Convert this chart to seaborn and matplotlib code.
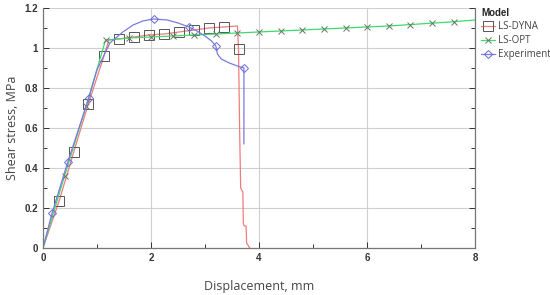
import matplotlib
matplotlib.use("Agg")
import matplotlib.pyplot as plt
import seaborn as sns
from matplotlib.ticker import MultipleLocator, FormatStrFormatter

# LS-DYNA simulation
dyna_x = [0, 0.30, 0.57, 0.84, 1.13, 1.22, 1.41, 1.69, 1.96, 2.24, 2.52, 2.80, 3.07, 3.35,
          3.60, 3.62, 3.64, 3.66, 3.70, 3.71, 3.73, 3.76, 3.77, 3.83]
dyna_y = [0, 0.235, 0.48, 0.72, 0.96, 1.04, 1.045, 1.055, 1.065, 1.07, 1.08, 1.09, 1.10, 1.105,
          1.11, 0.995, 0.60, 0.30, 0.28, 0.12, 0.11, 0.11, 0.025, 0.0]
dyna_marks = [1, 2, 3, 4, 6, 7, 8, 9, 10, 11, 12, 13, 15]

# LS-OPT fit
opt_x = [0, 0.4, 0.8, 1.16, 1.6, 2.0, 2.4, 2.8, 3.2, 3.6, 4.0, 4.4, 4.8, 5.2, 5.6, 6.0,
         6.4, 6.8, 7.2, 7.6, 8.0]
opt_y = [0, 0.36, 0.71, 1.04, 1.05, 1.055, 1.06, 1.065, 1.07, 1.075, 1.08, 1.085, 1.09,
         1.095, 1.10, 1.105, 1.11, 1.117, 1.124, 1.131, 1.14]
opt_marks = list(range(1, 20))

# experiment
exp_x = [0, 0.17, 0.46, 0.85, 1.0, 1.24, 1.48, 1.67, 1.85, 2.05, 2.3, 2.5, 2.70, 2.85, 3.0,
         3.12, 3.20, 3.23, 3.3, 3.45, 3.6, 3.72, 3.72, 3.72]
exp_y = [0, 0.175, 0.43, 0.75, 0.89, 1.025, 1.08, 1.115, 1.135, 1.145, 1.14, 1.125, 1.105,
         1.085, 1.06, 1.035, 1.01, 0.97, 0.945, 0.925, 0.91, 0.90, 0.70, 0.52]
exp_marks = [1, 2, 3, 9, 12, 16, 21]

sns.set_style("white")
plt.rcParams['font.family'] = ['Liberation Sans', 'DejaVu Sans']

fig, ax = plt.subplots(figsize=(5.5, 2.95), dpi=100)
fig.subplots_adjust(left=0.078, right=0.864, bottom=0.159, top=0.973)

series = [
    ("LS-DYNA", dyna_x, dyna_y, dyna_marks, "#f07c7c", "s", "#555555", 7),
    ("LS-OPT", opt_x, opt_y, opt_marks, "#3ddc6a", "x", "#667766", 5),
    ("Experiment", exp_x, exp_y, exp_marks, "#7a7ae0", "D", "#6a6ad0", 4.5),
]
for name, xs, ys, marks, col, mk, mec, ms in series:
    sns.lineplot(x=xs, y=ys, ax=ax, sort=False, estimator=None, color=col, lw=0.9,
                 label=name, marker=mk, markevery=marks, markersize=ms, mfc="none",
                 mec=mec, mew=0.7)

ax.set_xlim(0, 8)
ax.set_ylim(0, 1.2)
ax.xaxis.set_major_locator(MultipleLocator(2))
ax.xaxis.set_minor_locator(MultipleLocator(1))
ax.yaxis.set_major_locator(MultipleLocator(0.2))
ax.yaxis.set_minor_locator(MultipleLocator(0.1))
ax.yaxis.set_major_formatter(FormatStrFormatter('%g'))
ax.grid(True, which="major", color="#d0d0d0", lw=0.8)
ax.tick_params(which="both", direction="in", left=True, bottom=True, right=True,
               labelsize=7, colors="#333333", length=4, width=0.7)
ax.tick_params(which="minor", length=3)
for lab in ax.get_xticklabels() + ax.get_yticklabels():
    lab.set_fontweight("bold")
for s in ["left", "bottom", "right"]:
    ax.spines[s].set_color("#777777")
    ax.spines[s].set_linewidth(0.9)
ax.spines["top"].set_visible(False)

ax.set_xlabel("Displacement, mm", fontsize=9, color="#444444", family="Open Sans", labelpad=12)
ax.set_ylabel("Shear stress, MPa", fontsize=9, color="#444444", family="Open Sans", labelpad=4)

h, l = ax.get_legend_handles_labels()
ax.get_legend().remove()
leg = fig.legend(h, l, title="Model", loc="upper left", bbox_to_anchor=(0.868, 0.985),
                 frameon=False, fontsize=7, handlelength=1.4, handletextpad=0.3,
                 labelspacing=0.3, borderaxespad=0)
leg.get_title().set_fontweight("bold")
leg.get_title().set_fontsize(7)
leg._legend_box.align = "left"
for t in leg.get_texts():
    t.set_family("Open Sans")
    t.set_color("#444444")

fig.savefig("out.png", dpi=100)
